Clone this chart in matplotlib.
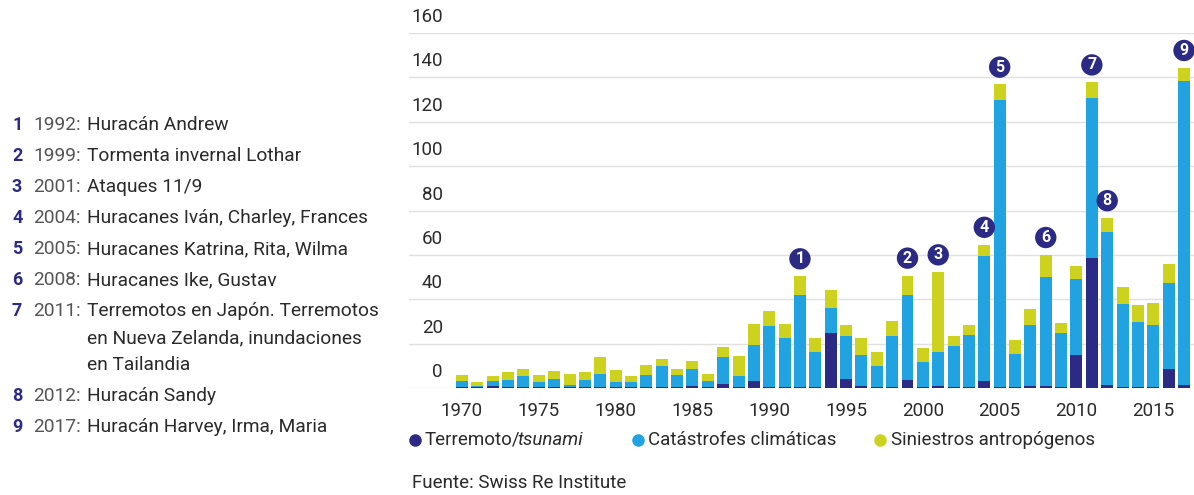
import numpy as np
import matplotlib
matplotlib.use('Agg')
import matplotlib.pyplot as plt
from matplotlib.lines import Line2D

plt.rcParams['font.family'] = ['Roboto', 'DejaVu Sans']

NAVY = '#2b2a84'
BLUE = '#21a3e2'
YELLOW = '#cdd21e'
TXT = '#2a2a2a'

years = np.arange(1970, 2018)
terremoto = [0.5, 0.3, 1.0, 0.5, 0.5, 0.3, 0.3, 0.3, 0.3, 0.5,
             0.3, 0.3, 0.3, 0.5, 0.3, 0.8, 0.3, 2.0, 0.3, 3.0,
             0.5, 0.3, 0.3, 0.3, 24.8, 4.1, 0.8, 0.3, 0.5, 3.5,
             0.3, 0.8, 0.3, 0.3, 3.3, 0.5, 0.3, 0.8, 0.8, 0.5,
             14.9, 58.5, 1.4, 0.3, 0.3, 0.3, 8.6, 1.4]
climaticas = [2.5, 0.5, 2.0, 3.0, 4.8, 2.4, 3.6, 1.2, 3.2, 5.8,
              2.4, 2.4, 5.7, 9.3, 5.4, 7.8, 2.7, 11.8, 5.0, 16.3,
              27.3, 22.3, 41.8, 15.8, 11.3, 19.5, 14.2, 9.5, 23.1, 38.6,
              11.3, 15.3, 18.5, 23.5, 56.0, 129.5, 15.0, 27.6, 49.2, 24.5,
              34.2, 72.3, 68.7, 37.6, 29.6, 28.1, 38.7, 136.9]
antropogenos = [2.7, 2.1, 2.6, 3.6, 3.3, 3.3, 3.8, 4.8, 3.6, 7.5,
                5.6, 2.6, 4.5, 3.3, 3.0, 3.7, 3.5, 4.7, 9.0, 9.7,
                6.8, 6.3, 8.3, 6.5, 7.9, 4.7, 7.6, 6.5, 6.8, 8.6,
                6.5, 36.1, 4.5, 4.7, 5.3, 6.8, 6.4, 7.1, 10.0, 4.5,
                5.7, 7.0, 6.5, 7.8, 7.6, 9.8, 8.7, 6.0]

yticks = [0, 20, 40, 60, 80, 100, 120, 140, 160]
xticks = [1970, 1975, 1980, 1985, 1990, 1995, 2000, 2005, 2010, 2015]

event_years = [1992, 1999, 2001, 2004, 2005, 2008, 2011, 2012, 2017]
event_texts = [
    ['1992:', ['Huracán Andrew']],
    ['1999:', ['Tormenta invernal Lothar']],
    ['2001:', ['Ataques 11/9']],
    ['2004:', ['Huracanes Iván, Charley, Frances']],
    ['2005:', ['Huracanes Katrina, Rita, Wilma']],
    ['2008:', ['Huracanes Ike, Gustav']],
    ['2011:', ['Terremotos en Japón. Terremotos', 'en Nueva Zelanda, inundaciones', 'en Tailandia']],
    ['2012:', ['Huracán Sandy']],
    ['2017:', ['Huracán Harvey, Irma, Maria']],
]

legend_labels = ['Catástrofes climáticas', 'Siniestros antropógenos']


def plot_chart():
    fig = plt.figure(figsize=(11.94, 4.95), dpi=100)
    W, H = 1194.0, 495.0
    ax = fig.add_axes([409 / W, 1 - 388 / H, 785 / W, 355 / H])

    t = np.array(terremoto)
    c = np.array(climaticas)
    a = np.array(antropogenos)
    bw = 0.78
    ax.bar(years, t, width=bw, color=NAVY, zorder=2)
    ax.bar(years, c, width=bw, bottom=t, color=BLUE, zorder=2)
    ax.bar(years, a, width=bw, bottom=t + c, color=YELLOW, zorder=2)

    ax.set_xlim(1966.55, 2017.65)
    ax.set_ylim(0, 160)
    ax.set_yticks(yticks)
    ax.yaxis.grid(True, color='#e0e0e0', linewidth=1.0, zorder=0)
    ax.tick_params(axis='y', length=0, labelleft=False)
    ax.set_xticks(xticks)
    ax.tick_params(axis='x', length=0, pad=10, labelsize=13.5, labelcolor=TXT)
    for s in ax.spines.values():
        s.set_visible(False)

    # y labels sit above the grid lines
    for v in yticks:
        ax.annotate(str(v), xy=(0.0433, v), xycoords=('axes fraction', 'data'),
                    xytext=(0, 11.5), textcoords='offset points',
                    ha='right', va='center', fontsize=13.5, color=TXT)

    # numbered markers
    totals = t + c + a
    for i, yr in enumerate(event_years):
        k = yr - 1970
        ax.annotate(str(i + 1), xy=(yr, totals[k]), xytext=(0, 12.5),
                    textcoords='offset points', ha='center', va='center',
                    color='white', fontsize=11.5, fontweight='bold',
                    annotation_clip=False, zorder=5,
                    bbox=dict(boxstyle='circle,pad=0.2', fc=NAVY, ec='none'))

    # left list
    y = 125
    for i, (yr, lines) in enumerate(event_texts):
        fig.text(12 / W, 1 - y / H, str(i + 1), color=NAVY, fontweight='bold',
                 fontsize=13, va='center', ha='left')
        fig.text(33 / W, 1 - y / H, yr, color='#555555', fontsize=13.8,
                 va='center', ha='left')
        for j, ln in enumerate(lines):
            fig.text(87 / W, 1 - (y + 27 * j) / H, ln, color=TXT, fontsize=13.8,
                     va='center', ha='left')
        y += 31 + 27 * (len(lines) - 1)

    # legend
    ly = 1 - 440 / H
    fig.add_artist(Line2D([415 / W], [ly], marker='o', markersize=8, color=NAVY,
                          transform=fig.transFigure))
    t1 = fig.text(425 / W, ly, 'Terremoto/', fontsize=13.5, color=TXT, va='center')
    ax.annotate('tsunami', xy=(1, 0.5), xycoords=t1, xytext=(-2, 0),
                textcoords='offset points', va='center', ha='left',
                fontsize=13.5, color=TXT, style='italic')
    fig.add_artist(Line2D([638 / W], [ly], marker='o', markersize=8, color=BLUE,
                          transform=fig.transFigure))
    fig.text(648 / W, ly, legend_labels[0], fontsize=13.5, color=TXT, va='center')
    fig.add_artist(Line2D([880 / W], [ly], marker='o', markersize=8, color=YELLOW,
                          transform=fig.transFigure))
    fig.text(891 / W, ly, legend_labels[1], fontsize=13.5, color=TXT, va='center')

    fig.text(412 / W, 1 - 483 / H, 'Fuente: Swiss Re Institute', fontsize=13.5,
             color=TXT, va='center')

    fig.savefig('out.png', dpi=100)


if __name__ == "__main__":
    plot_chart()
